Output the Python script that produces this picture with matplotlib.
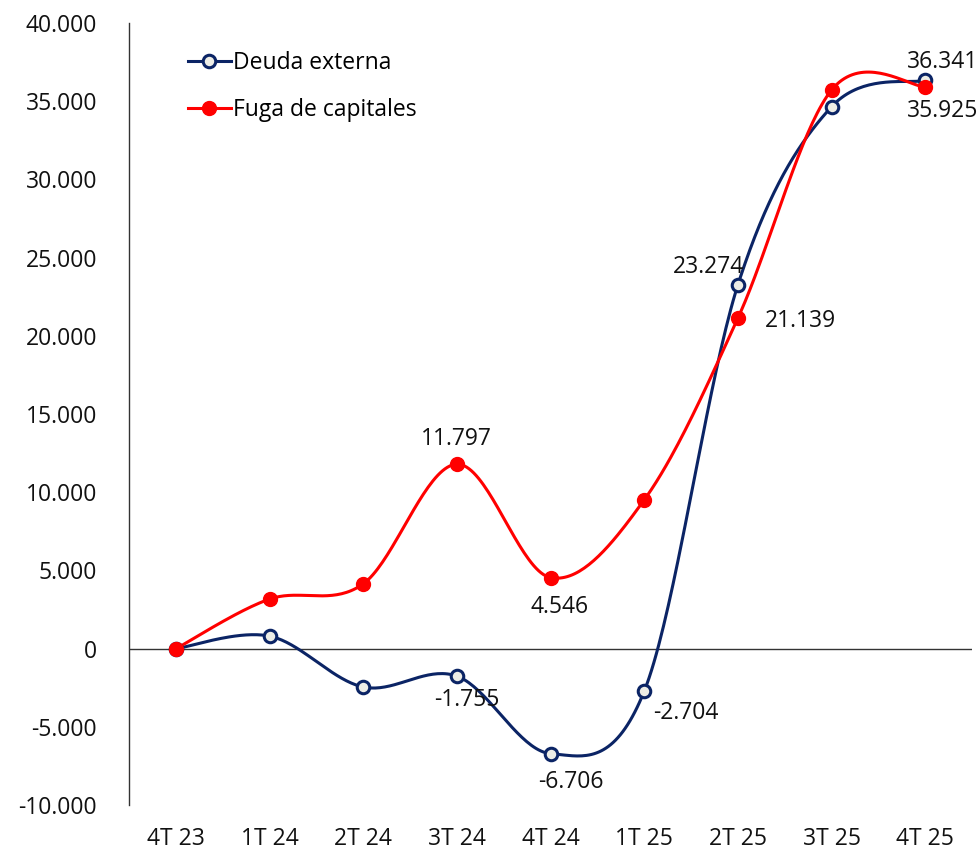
import numpy as np
import matplotlib
matplotlib.use("Agg")
from matplotlib import pyplot as plt
from matplotlib.ticker import FuncFormatter

plt.rcParams['font.family'] = ['Open Sans', 'DejaVu Sans']

trimestres = ["4T 23", "1T 24", "2T 24", "3T 24", "4T 24", "1T 25", "2T 25", "3T 25", "4T 25"]
deuda_externa = [0, 805, -2450, -1755, -6706, -2704, 23274, 34650, 36341]
fuga_capitales = [0, 3175, 4150, 11797, 4546, 9520, 21139, 35720, 35925]

# which points get a value label, and where it sits (offset in pixels)
etiquetas_deuda = {3: (10, -24), 4: (20, -28), 5: (42, -22), 6: (-29, 18), 8: (17, 18)}
etiquetas_fuga = {3: (-1, 25), 4: (9, -29), 6: (62, -3), 8: (17, -24)}

AZUL = "#0B2465"
ROJO = "#FF0000"
FS = 16.5


def suavizar(x, y, n=40):
    # smoothed line like the spreadsheet one: bezier segments with catmull-rom handles
    x = np.asarray(x, float)
    y = np.asarray(y, float)
    px = np.concatenate([[x[0]], x, [x[-1]]])
    py = np.concatenate([[y[0]], y, [y[-1]]])
    xs, ys = [], []
    t = np.linspace(0, 1, n)
    for i in range(len(x) - 1):
        p0 = np.array([px[i], py[i]])
        p1 = np.array([px[i + 1], py[i + 1]])
        p2 = np.array([px[i + 2], py[i + 2]])
        p3 = np.array([px[i + 3], py[i + 3]])
        c1 = p1 + (p2 - p0) / 6
        c2 = p2 - (p3 - p1) / 6
        b = ((1 - t) ** 3)[:, None] * p1 + (3 * (1 - t) ** 2 * t)[:, None] * c1 \
            + (3 * (1 - t) * t ** 2)[:, None] * c2 + (t ** 3)[:, None] * p2
        xs.extend(b[:, 0])
        ys.extend(b[:, 1])
    return np.array(xs), np.array(ys)


def miles(v, pos=None):
    return f"{v:,.0f}".replace(",", ".")


fig = plt.figure(figsize=(9.78, 8.52), dpi=100)
ax = fig.add_axes([0.132, 0.055, 0.862, 0.918])

xi = np.arange(len(trimestres))

sx, sy = suavizar(xi, deuda_externa)
ax.plot(sx, sy, color=AZUL, lw=2.2, zorder=3)
ax.plot(xi, deuda_externa, ls="none", marker="o", ms=9, mfc="#EDEDE6", mec=AZUL, mew=2.2, zorder=4)

sx, sy = suavizar(xi, fuga_capitales)
ax.plot(sx, sy, color=ROJO, lw=2.2, zorder=3)
ax.plot(xi, fuga_capitales, ls="none", marker="o", ms=10, mfc=ROJO, mec=ROJO, zorder=5)

# legend handles
ax.plot([], [], color=AZUL, lw=2.2, marker="o", ms=9, mfc="#EDEDE6", mec=AZUL, mew=2.2, label="Deuda externa")
ax.plot([], [], color=ROJO, lw=2.2, marker="o", ms=10, mfc=ROJO, mec=ROJO, label="Fuga de capitales")

for i, (dx, dy) in etiquetas_deuda.items():
    ax.annotate(miles(deuda_externa[i]), (xi[i], deuda_externa[i]), xytext=(dx, dy),
                textcoords="offset pixels", ha="center", va="center", fontsize=FS, color="#111111")
for i, (dx, dy) in etiquetas_fuga.items():
    ax.annotate(miles(fuga_capitales[i]), (xi[i], fuga_capitales[i]), xytext=(dx, dy),
                textcoords="offset pixels", ha="center", va="center", fontsize=FS, color="#111111")

ax.axhline(0, color="#333333", lw=1, zorder=1)

ax.set_xlim(-0.5, len(trimestres) - 0.5)
ax.set_ylim(-10000, 40000)
ax.set_yticks(np.arange(-10000, 40001, 5000))
ax.yaxis.set_major_formatter(FuncFormatter(miles))
ax.set_xticks(xi)
ax.set_xticklabels(trimestres)
ax.tick_params(axis="both", length=0, labelsize=FS, colors="#111111")
ax.tick_params(axis="y", pad=23)
ax.tick_params(axis="x", pad=16)

for lado in ["top", "right", "bottom"]:
    ax.spines[lado].set_visible(False)
ax.spines["left"].set_color("#333333")
ax.spines["left"].set_linewidth(1)

ax.legend(loc="upper left", bbox_to_anchor=(0.045, 0.99), frameon=False, fontsize=FS,
          handlelength=1.9, handletextpad=0.1, labelspacing=1.0)

fig.savefig("out.png", dpi=100)
